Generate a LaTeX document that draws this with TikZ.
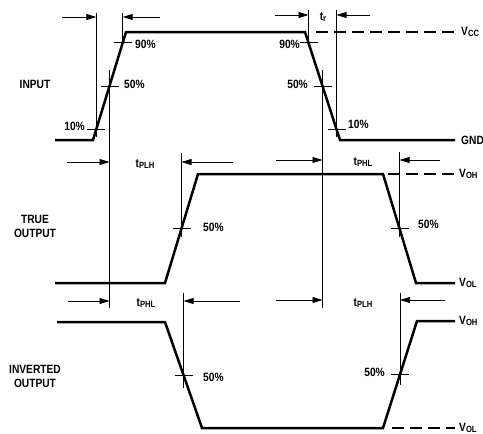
\documentclass[tikz,border=0pt]{standalone}
\usepackage{fontspec}
\setmainfont{Liberation Sans}[FakeStretch=0.85]
\usetikzlibrary{arrows.meta,calc}
\newcommand{\lvl}[2]{#1\raisebox{-1.4pt}{\fontsize{9}{9}\selectfont #2}}

\begin{document}
\begin{tikzpicture}[
    x=1pt, y=-1pt,
    wave/.style={line width=2.5pt, line join=miter},
    level/.style={line width=2pt, dash pattern=on 12pt off 6pt},
    guide/.style={line width=0.75pt},
    dim/.style={line width=0.75pt, -{Triangle[length=10pt,width=6pt]}},
    lab/.style={font=\bfseries\fontsize{12}{14}\selectfont, inner sep=1pt},
    sig/.style={lab, align=center}
]
\useasboundingbox (0,0) rectangle (483,434);

% edges of the three waveforms
\coordinate (ra) at (93,140);  \coordinate (rb) at (126,32);
\coordinate (fa) at (305,32);  \coordinate (fb) at (340,140);
\coordinate (ta) at (165,283); \coordinate (tb) at (198,174);
\coordinate (tc) at (383,174); \coordinate (td) at (416,283);
\coordinate (ia) at (165,322); \coordinate (ib) at (202,428);
\coordinate (ic) at (383,428); \coordinate (id) at (417,321);

\coordinate (r10) at ($(ra)!.1!(rb)$);
\coordinate (r50) at ($(ra)!.5!(rb)$);
\coordinate (r90) at ($(ra)!.9!(rb)$);
\coordinate (f90) at ($(fa)!.1!(fb)$);
\coordinate (f50) at ($(fa)!.5!(fb)$);
\coordinate (f10) at ($(fa)!.9!(fb)$);
\coordinate (t50) at ($(ta)!.5!(tb)$);
\coordinate (u50) at ($(tc)!.5!(td)$);
\coordinate (i50) at ($(ia)!.5!(ib)$);
\coordinate (j50) at ($(ic)!.5!(id)$);

% waveforms
\draw[wave] (55,140) -- (ra) -- (rb) -- (fa) -- (fb) -- (455,140);
\draw[level] (316,32) -- (455,32);
\draw[wave] (55,283) -- (ta) -- (tb) -- (tc) -- (td) -- (455,283);
\draw[level] (388,174) -- (455,174);
\draw[wave] (57,322) -- (ia) -- (ib) -- (ic) -- (id) -- (455,321);
\draw[level] (392,428) -- (455,428);

% reference lines
\draw[guide] (r10 |- 0,13) -- (r10 |- 0,137);
\draw[guide] (r90 |- 0,13) -- (r90 |- 0,45);
\draw[guide] (r50 |- 0,70) -- (r50 |- 0,308);
\draw[guide] (f90 |- 0,10) -- (f90 |- 0,45);
\draw[guide] (f10 |- 0,10) -- (f10 |- 0,137);
\draw[guide] (f50 |- 0,70) -- (f50 |- 0,308);
\draw[guide] (t50 |- 0,153) -- (t50 |- 0,237);
\draw[guide] (u50 |- 0,152) -- (u50 |- 0,237);
\draw[guide] (i50 |- 0,293) -- (i50 |- 0,388);
\draw[guide] (j50 |- 0,293) -- (j50 |- 0,385);

% percentage ticks
\foreach \p in {r10,r50,r90,f90,f50,f10,t50,u50,i50,j50}
  \draw[guide] ($(\p)+(-9,0)$) -- ($(\p)+(9,0)$);

% timing arrows
\draw[dim] (62,17) -- (r10 |- 0,17);
\draw[dim] (160,17) -- (r90 |- 0,17);
\draw[dim] (275,15) -- (f90 |- 0,15);
\draw[dim] (370,15) -- (f10 |- 0,15);
\draw[dim] (67,162) -- (r50 |- 0,162);
\draw[dim] (233,162) -- (t50 |- 0,162);
\draw[dim] (276,160) -- (f50 |- 0,160);
\draw[dim] (440,160) -- (u50 |- 0,160);
\draw[dim] (68,301) -- (r50 |- 0,301);
\draw[dim] (240,301) -- (i50 |- 0,301);
\draw[dim] (276,300) -- (f50 |- 0,300);
\draw[dim] (445,300) -- (j50 |- 0,300);

% labels
\node[lab] (tr) at (323,17) {\lvl{t}{r}};
\node[lab] (tplh1) at (145,164) {\lvl{t}{PLH}};
\node[lab] (tphl1) at (363,162) {\lvl{t}{PHL}};
\node[lab] (tphl2) at (146,303) {\lvl{t}{PHL}};
\node[lab] (tplh2) at (363,303) {\lvl{t}{PLH}};

\node[lab, anchor=west] (p90a) at (134,44) {90\%};
\node[lab, anchor=west] (p50a) at (123,84) {50\%};
\node[lab, anchor=east] (p10a) at (86,126) {10\%};
\node[lab, anchor=east] (p90b) at (301,44) {90\%};
\node[lab, anchor=east] (p50b) at (309,84) {50\%};
\node[lab, anchor=west] (p10b) at (347,124) {10\%};
\node[lab, anchor=west] (p50c) at (202,227) {50\%};
\node[lab, anchor=west] (p50d) at (417,224) {50\%};
\node[lab, anchor=west] (p50e) at (202,377) {50\%};
\node[lab, anchor=east] (p50f) at (386,372) {50\%};

\node[lab, anchor=west] (vcc) at (460,32) {\lvl{V}{CC}};
\node[lab, anchor=west] (gnd) at (460,140) {GND};
\node[lab, anchor=west] (voh1) at (458,174) {\lvl{V}{OH}};
\node[lab, anchor=west] (vol1) at (458,283) {\lvl{V}{OL}};
\node[lab, anchor=west] (voh2) at (458,321) {\lvl{V}{OH}};
\node[lab, anchor=west] (vol2) at (458,428) {\lvl{V}{OL}};

\node[sig] (input) at (35,84) {INPUT};
\node[sig] (true) at (35,226) {TRUE\\OUTPUT};
\node[sig] (inv) at (35,376) {INVERTED\\OUTPUT};
\end{tikzpicture}
\end{document}
